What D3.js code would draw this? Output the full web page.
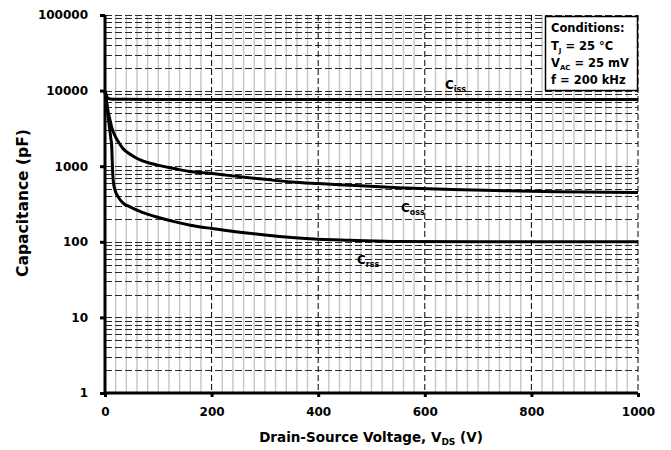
<!DOCTYPE html>
<html>
<head>
<meta charset="utf-8">
<script src="https://cdn.jsdelivr.net/npm/d3@7"></script>
<style>
  html, body { margin: 0; padding: 0; background: #fff; }
  svg { display: block; }
  text { font-family: "DejaVu Sans", sans-serif; font-weight: bold; fill: #000; }
</style>
</head>
<body>
<svg id="chart" width="671" height="450"></svg>
<script>
// Drain-source voltage sample points (V) for each capacitance curve
const cissV = [0, 2, 4, 6, 10, 20, 100, 400, 1000];
const cissC = [9800, 8900, 8200, 7900, 7750, 7700, 7650, 7620, 7600];

const cossV = [0, 3, 6, 9, 13, 19, 25, 34, 50, 66, 97, 130, 159, 200, 253, 300, 350, 400, 460, 550, 650, 750, 850, 1000];
const cossC = [10000, 7000, 5200, 4200, 3200, 2500, 2100, 1700, 1400, 1210, 1040, 930, 850, 800, 726, 670, 620, 590, 560, 520, 490, 475, 460, 450];

const crssV = [0, 3, 6, 9, 11, 12.5, 13.5, 14.5, 16, 19, 25, 34, 47, 70, 97, 130, 160, 200, 253, 300, 350, 400, 460, 550, 700, 850, 1000];
const crssC = [9500, 7000, 4500, 3000, 2300, 1900, 1200, 800, 600, 480, 390, 325, 290, 245, 213, 185, 166, 150, 134, 123, 114, 108, 105, 101, 100, 100, 100];

const xTicks = [0, 200, 400, 600, 800, 1000];
const yTicks = [1, 10, 100, 1000, 10000, 100000];

const svg = d3.select("#chart");
const x = d3.scaleLinear().domain([0, 1000]).range([105, 638]);
const y = d3.scaleLog().domain([1, 100000]).range([393, 15]);

// minor vertical grid every 20 V
const minorX = d3.range(20, 1000, 20).filter(v => v % 200 !== 0);
svg.append("g").selectAll("line").data(minorX).join("line")
  .attr("x1", d => x(d)).attr("x2", d => x(d))
  .attr("y1", y(100000)).attr("y2", y(1))
  .attr("stroke", "#c8c8c8").attr("stroke-width", 1.5);

// horizontal grid at every 1..9 x decade
const hGrid = [];
for (let e = 0; e < 5; e++) for (let m = 1; m <= 9; m++) hGrid.push(m * Math.pow(10, e));
hGrid.push(100000);
svg.append("g").selectAll("line").data(hGrid.filter(v => v > 1)).join("line")
  .attr("x1", x(0)).attr("x2", x(1000))
  .attr("y1", d => Math.round(y(d)) + 0.5).attr("y2", d => Math.round(y(d)) + 0.5)
  .attr("stroke", "#2a2a2a").attr("stroke-width", 1)
  .attr("stroke-dasharray", "7,3");

// major vertical grid every 200 V
svg.append("g").selectAll("line").data(xTicks.slice(1)).join("line")
  .attr("x1", d => x(d)).attr("x2", d => x(d))
  .attr("y1", y(100000)).attr("y2", y(1))
  .attr("stroke", "#000").attr("stroke-width", 1)
  .attr("stroke-dasharray", "6,3");

// axes
const xAxis = d3.axisBottom(x).tickValues(xTicks).tickSize(4).tickFormat(d3.format("d"));
const gx = svg.append("g").attr("transform", `translate(0,${y(1)})`).call(xAxis);
gx.select(".domain").attr("stroke", "#000").attr("stroke-width", 3).attr("d", `M${x(0)},0H${x(1000)}`);
gx.selectAll(".tick line").attr("stroke", "#000").attr("stroke-width", 3);
gx.selectAll(".tick text").attr("y", 14).attr("dy", "0.71em").style("font-size", "12px")
  .style("font-family", "'DejaVu Sans', sans-serif").style("font-weight", "bold");

const yAxis = d3.axisLeft(y).tickValues(yTicks).tickSize(5).tickFormat(d3.format("d"));
const gy = svg.append("g").attr("transform", `translate(${x(0)},0)`).call(yAxis);
gy.select(".domain").attr("stroke", "#000").attr("stroke-width", 3).attr("d", `M0,${y(100000)}V${y(1)}`);
gy.selectAll(".tick line").attr("stroke", "#000").attr("stroke-width", 3);
gy.selectAll(".tick text").attr("x", -17).style("font-size", "12px")
  .style("font-family", "'DejaVu Sans', sans-serif").style("font-weight", "bold");

// capacitance curves
const line = d3.line().x(d => x(d[0])).y(d => y(d[1])).curve(d3.curveMonotoneX);
const series = [
  cissV.map((v, i) => [v, cissC[i]]),
  cossV.map((v, i) => [v, cossC[i]]),
  crssV.map((v, i) => [v, crssC[i]])
];
svg.append("g").selectAll("path").data(series).join("path")
  .attr("d", line).attr("fill", "none")
  .attr("stroke", "#000").attr("stroke-width", 3);

// curve labels
function capLabel(px, py, sub) {
  const t = svg.append("text").attr("x", px).attr("y", py).style("font-size", "12px");
  t.append("tspan").text("C");
  t.append("tspan").attr("dy", 3).style("font-size", "8px").text(sub);
}
capLabel(445, 89, "iss");
capLabel(401, 212, "oss");
capLabel(357, 264, "rss");

// conditions box
svg.append("rect").attr("x", 545.5).attr("y", 16.5).attr("width", 92).attr("height", 74)
  .attr("fill", "#fff").attr("stroke", "#000").attr("stroke-width", 1.5);
const lx = 551;
const fs = "11.5px";
svg.append("text").attr("x", lx).attr("y", 32).style("font-size", fs).text("Conditions:");
const t1 = svg.append("text").attr("x", lx).attr("y", 50).style("font-size", fs);
t1.append("tspan").text("T");
t1.append("tspan").attr("dy", 3).style("font-size", "7px").text("J");
t1.append("tspan").attr("dy", -3).text(" = 25 °C");
const t2 = svg.append("text").attr("x", lx).attr("y", 67).style("font-size", fs);
t2.append("tspan").text("V");
t2.append("tspan").attr("dy", 3).style("font-size", "7px").text("AC");
t2.append("tspan").attr("dy", -3).text(" = 25 mV");
svg.append("text").attr("x", lx).attr("y", 84).style("font-size", fs).text("f = 200 kHz");

// axis titles
const xt = svg.append("text").attr("x", 371).attr("y", 442).attr("text-anchor", "middle").style("font-size", "13.5px");
xt.append("tspan").text("Drain-Source Voltage, V");
xt.append("tspan").attr("dy", 3).style("font-size", "9px").text("DS");
xt.append("tspan").attr("dy", -3).text(" (V)");

svg.append("text").attr("transform", "translate(28,203) rotate(-90)")
  .attr("text-anchor", "middle").style("font-size", "15.5px").text("Capacitance (pF)");
</script>
</body>
</html>
